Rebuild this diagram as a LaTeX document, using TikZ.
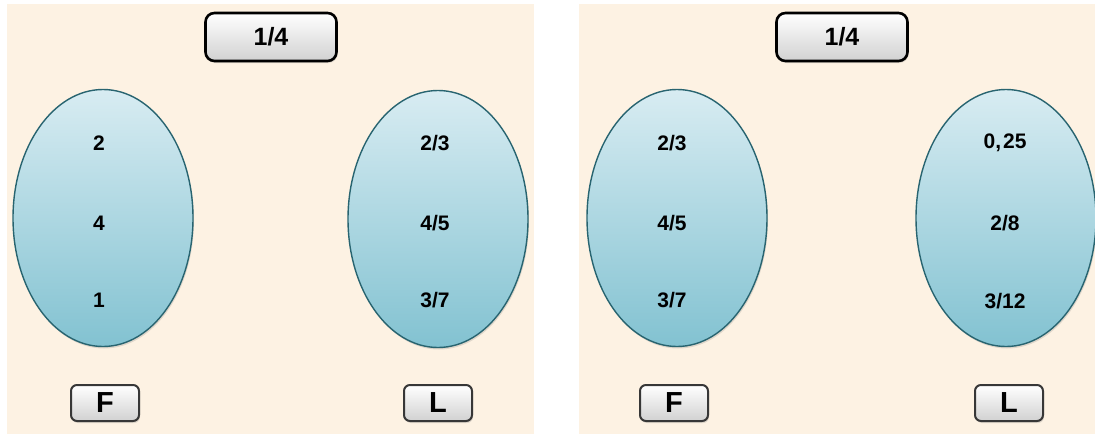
\documentclass[tikz,border=0pt]{standalone}
\usepackage{fontspec}
\setmainfont{Liberation Sans}
\usetikzlibrary{shapes.geometric,shadows}
\definecolor{bg}{RGB}{253,242,227}
\definecolor{ovaltop}{RGB}{216,236,242}
\definecolor{ovalbot}{RGB}{130,194,209}
\definecolor{ovalborder}{RGB}{40,100,112}
\definecolor{btnborder}{RGB}{55,55,55}
\tikzset{
  panel/.style={fill=bg, draw=none},
  oval/.style={ellipse, draw=ovalborder, line width=1.4pt, top color=ovaltop, bottom color=ovalbot,
    minimum width=180pt, minimum height=257pt, inner sep=0pt,
    drop shadow={shadow xshift=1pt, shadow yshift=-2pt, opacity=0.2, fill=black!60}},
  val/.style={font=\fontsize{21}{24}\selectfont\bfseries, text=black},
  btn/.style={rectangle, rounded corners=6pt, draw=btnborder, line width=2pt, top color=white, bottom color=black!18,
    minimum width=68pt, minimum height=36pt, inner sep=0pt, font=\fontsize{29}{32}\selectfont\bfseries,
    drop shadow={shadow xshift=1pt, shadow yshift=-2pt, opacity=0.2, fill=black!60}},
  topbtn/.style={btn, rounded corners=9pt, draw=black, line width=2.6pt, minimum width=131pt, minimum height=48pt,
    font=\fontsize{25}{28}\selectfont\bfseries}
}
\begin{document}
\begin{tikzpicture}[x=1pt,y=-1pt]
\useasboundingbox (0,0) rectangle (1095,434);
\fill[white] (0,0) rectangle (1095,434);
% panels
\fill[panel] (7,4) rectangle (534,434);
\fill[panel] (579,4) rectangle (1095,434);

% ---- left panel ----
\node[topbtn] (tl) at (271,37) {1/4};
\node[oval] (lf) at (103,218) {};
\node[oval] (ll) at (438,219) {};
\node[val] (lf1) at (99,143) {2};
\node[val] (lf2) at (99,223) {4};
\node[val] (lf3) at (99,300) {1};
\node[val] (ll1) at (435,143) {2/3};
\node[val] (ll2) at (435,223) {4/5};
\node[val] (ll3) at (435,300) {3/7};
\node[btn] (bfl) at (105,403) {F};
\node[btn] (bll) at (438,403) {L};

% ---- right panel ----
\node[topbtn] (tr) at (842,37) {1/4};
\node[oval] (rf) at (677,218) {};
\node[oval] (rl) at (1006,218) {};
\node[val] (rf1) at (672,143) {2/3};
\node[val] (rf2) at (672,223) {4/5};
\node[val] (rf3) at (672,300) {3/7};
\node[val] (rl1) at (1005,143) {0,\kern2pt25};
\node[val] (rl2) at (1005,223) {2/8};
\node[val] (rl3) at (1005,301) {3/12};
\node[btn] (bfr) at (674,403) {F};
\node[btn] (blr) at (1009,403) {L};
\end{tikzpicture}
\end{document}
